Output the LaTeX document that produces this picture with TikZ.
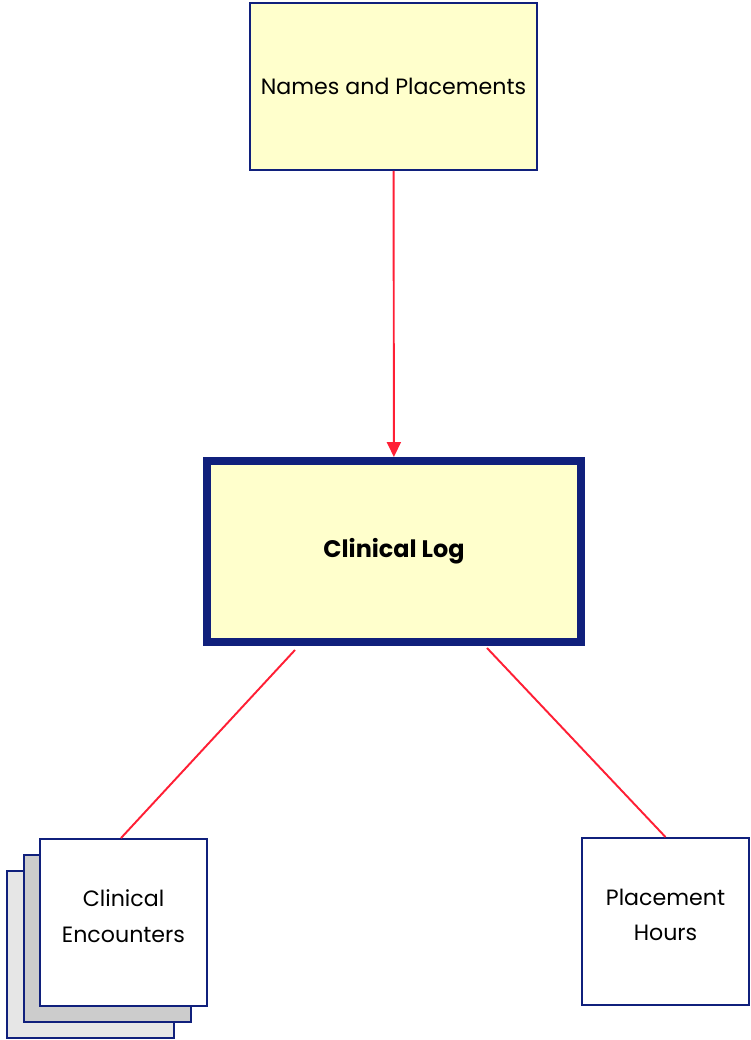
\documentclass[tikz,border=0pt]{standalone}
\usepackage{fontspec}
\setmainfont{Poppins}
\usepackage{tikz}
\usetikzlibrary{arrows.meta,positioning,calc}
\definecolor{navy}{HTML}{10207C}
\definecolor{paleyellow}{HTML}{FFFFCC}
\definecolor{linkred}{HTML}{FF1F35}
\definecolor{sheetgray}{HTML}{CCCCCC}
\definecolor{sheetlight}{HTML}{E6E6E6}
\tikzset{
  entity/.style={draw=navy,fill=paleyellow,line width=1.1pt,align=center,
    minimum width=5.74cm,minimum height=3.34cm,font=\fontsize{12.6}{20}\selectfont},
  core/.style={draw=navy,fill=paleyellow,line width=0.16cm,align=center,
    minimum width=7.48cm,minimum height=3.62cm,font=\fontsize{13.6}{20}\selectfont\bfseries},
  sheet/.style={draw=navy,fill=white,line width=1.1pt,align=center,text depth=0.26cm,
    minimum width=3.34cm,minimum height=3.34cm,font=\fontsize{12.6}{20}\selectfont},
  arrow/.style={-{Triangle[width=0.28cm,length=0.3cm]},draw=linkred,line width=1.1pt},
  link/.style={draw=linkred,line width=1.1pt}
}
\begin{document}
\begin{tikzpicture}[x=0.02cm,y=-0.02cm]
        \useasboundingbox (0,0) rectangle (750,1040);
        \node[entity] (names) at (393.5,86.5) {Names and Placements};
        \node[core] (clog) at (394,551.5) {Clinical Log};
        % stacked sheets behind the encounters box
        \node[sheet,fill=sheetlight] (encback) at (90.5,954.5) {};
        \node[sheet,fill=sheetgray] (encmid) at (107.5,938.5) {};
        \node[sheet] (encounters) at (123.5,922.5) {Clinical\\Encounters};
        \node[sheet] (hours) at (665.5,921.5) {Placement\\Hours};
        \draw[arrow] (names) -- (clog);
        \draw[link] ([shift={(-99,4)}]clog.south) -- ([xshift=-0.05cm]encounters.north);
        \draw[link] ([shift={(93,2)}]clog.south) -- (hours.north);
      \end{tikzpicture}
\end{document}
